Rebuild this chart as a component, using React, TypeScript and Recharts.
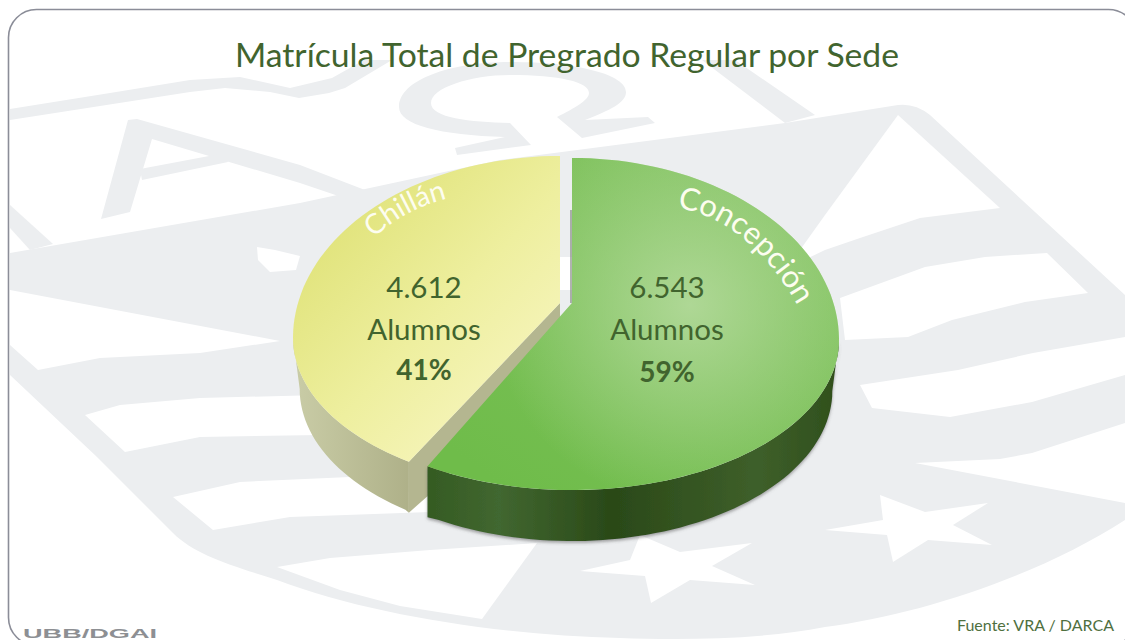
import { Pie, PieChart } from 'recharts';

const sedes = ['Chillán', 'Concepción'];
const alumnos = [4612, 6543];
const tableData = sedes.map((sede, i) => ({ sede, alumnos: alumnos[i] }));

const titulo = 'Matrícula Total de Pregrado Regular por Sede';
const fuente = 'Fuente: VRA / DARCA';
const firma = 'UBB/DGAI';

const FONT = 'Lato, Carlito, sans-serif';
const TEXT_GREEN = '#41642e';

// drawing offsets for each slice, the pie is exploded and seen in perspective
const sliceLook = [
  { dx: -6, dy: -2, tipShift: -3.3, apexDy: -35, topFill: 'url(#chillanTop)', glow: '', wall: 'url(#chillanWall)', cut: '#b4b690', depth: 51 },
  { dx: 6, dy: 0, tipShift: -1.6, apexDy: -37, topFill: 'url(#concepTop)', glow: 'url(#concepGlow)', wall: 'url(#concepWall)', cut: '#3b5c27', depth: 51 },
];
const labelLook = [
  { x: 424, y: 298 },
  { x: 667, y: 298 },
];

const SQUASH_TOP = 0.682;
const SQUASH_BOTTOM = 0.562;
const WALL_TAPER = 0.975;

function ellipsePoints(cx: number, cy: number, r: number, from: number, to: number) {
  const pts: number[][] = [];
  const steps = Math.max(2, Math.ceil(Math.abs(to - from) / 2));
  for (let s = 0; s <= steps; s++) {
    const a = ((from + ((to - from) * s) / steps) * Math.PI) / 180;
    const sin = Math.sin(a);
    const squash = sin > 0 ? SQUASH_TOP : SQUASH_BOTTOM;
    pts.push([cx + r * Math.cos(a), cy - r * squash * sin]);
  }
  return pts;
}

const toPath = (pts: number[][]) =>
  pts.map((p, i) => `${i ? 'L' : 'M'}${p[0].toFixed(1)},${p[1].toFixed(1)}`).join(' ') + ' Z';

function Slice3D(props: any) {
  const i = sedes.indexOf(props.name ?? props.payload?.sede);
  const look = sliceLook[i];
  const cx = props.cx + look.dx;
  const cy = props.cy + look.dy;
  const r = props.outerRadius;
  // Chillán runs top -> bottom left, Concepción runs bottom left -> top
  const start = i === 0 ? props.startAngle : props.startAngle + look.tipShift;
  const end = i === 0 ? props.endAngle + look.tipShift : props.endAngle;
  const rim = ellipsePoints(cx, cy, r, start, end);
  const apex = [cx, cy + look.apexDy];
  const top = toPath([apex, ...rim]);

  const wallRim = i === 0 ? ellipsePoints(cx, cy, r, 180, end) : ellipsePoints(cx, cy, r, start, 360);
  const wall = toPath([
    ...wallRim,
    ...[...wallRim].reverse().map((p, k, arr) => {
      // the lower rim is a little narrower, except at the cut corner
      const atCorner = i === 0 ? k === 0 : k === arr.length - 1;
      const x = atCorner ? p[0] : cx + (p[0] - cx) * WALL_TAPER;
      return [x, p[1] + look.depth];
    }),
  ]);
  const tip = rim[rim.length - 1];
  const cut = [
    apex,
    tip,
    [tip[0], tip[1] + look.depth],
    [tip[0] + 18, tip[1] + 35],
    [apex[0], apex[1] + look.depth],
  ];

  return (
    <g>
      <path d={wall} fill={look.wall} filter={i === 1 ? 'url(#pieShadow)' : undefined} />
      {i === 0 && <path d={toPath(cut)} fill={look.cut} />}
      <path d={top} fill={look.topFill} />
      {look.glow && <path d={top} fill={look.glow} />}
      {i === 1 && (
        <line x1={cx - 1} y1={210} x2={cx - 1} y2={apex[1]} stroke='#8f948f' strokeWidth={2} opacity={0.7} />
      )}
    </g>
  );
}

function SliceLabel(props: any) {
  const i = sedes.indexOf(props.name ?? props.payload?.sede);
  const pos = labelLook[i];
  const numero = String(props.value).replace(/\B(?=(\d{3})+$)/g, '.');
  const common = { fontFamily: FONT, textAnchor: 'middle' as const, fill: TEXT_GREEN };
  return (
    <g>
      <text x={pos.x} y={pos.y} fontSize={29.5} {...common}>{numero}</text>
      <text x={pos.x} y={pos.y + 42} fontSize={29.5} {...common}>Alumnos</text>
      <text x={pos.x} y={pos.y + (i === 0 ? 82 : 84)} fontSize={28} fontWeight={700} {...common}>
        {Math.round(props.percent * 100)}%
      </text>
      <text fontFamily={FONT} fontSize={i === 0 ? 28 : 31} fill='#fdfdf0'>
        <textPath href={i === 0 ? '#chillanCurve' : '#concepCurve'}>{props.name ?? sedes[i]}</textPath>
      </text>
    </g>
  );
}

// pale emblem behind the chart
const WATERMARK = '#eceef0';
const whiteCuts = [
  '10,290 280,341 200,353 100,358 38,370 10,345',
  '85,415 120,405 200,398 320,395 320,435 200,437 125,452',
  '173,497 240,482 350,477 440,500 430,512 290,517 213,530',
  '277,567 330,558 430,550 537,543 482,619 400,606 340,590',
  '580,571 645,576 651,603 690,580 755,585 712,566 752,543 680,552 640,535 630,560',
  '860,385 958,370 1033,353 1125,337 1125,375 1032,402 950,417 872,408',
  '915,463 1000,459 1032,453 1125,423 1125,503',
  '898,115 1000,208 920,218 860,238 825,250 800,262 800,250 825,215',
  '1047,253 1088,293 1025,302 952,320 908,337 845,340 840,298 925,267 985,257',
  '880,495 925,512 988,503 953,525 992,545 928,540 893,562 887,535 825,530 883,520',
  '257,247 275,250 300,256 296,270 270,272 258,260',
  '560,257 572,257 572,290 560,290',
];
const greyStrokes = [
  '10,205 53,244 30,250 10,228',
  '128,120 137,119 300,165 365,190 365,205 300,183 152,139 130,212 101,219',
  '140,169 225,153 228,162 142,180',
  '10,109 110,93 190,80 240,77 290,88 332,78 364,60 392,60 345,88 329,93 299,98 270,92 225,88 190,92 10,120',
  '702,60 735,60 815,115 785,123',
];

function Watermark() {
  return (
    <svg width={1125} height={640} style={{ position: 'absolute', left: 0, top: 0 }}>
      <path
        d='M10,253 L300,203 L500,160 L785,123 L898,105 Q915,103 930,115 L1125,295 L1125,520 C1040,575 920,615 825,627 C760,640 680,640 620,638 C500,635 370,615 277,580 C230,565 195,555 173,533 L97,457 L10,375 Z'
        fill={WATERMARK}
      />
      {whiteCuts.map((points) => (
        <polygon key={points} points={points} fill='#ffffff' />
      ))}
      {greyStrokes.map((points) => (
        <polygon key={points} points={points} fill={WATERMARK} />
      ))}
      <path
        d='M510,123 C470,122 431,118 431,103 C431,88 470,75 510,75 C560,75 589,82 589,93 C589,100 575,108 557,117 L582,138 L655,123 L648,117 L585,120 C610,110 626,103 626,92 C626,75 580,62 510,62 C450,62 399,80 399,107 C399,125 440,135 505,137 L455,148 L457,155 L531,145 Z'
        fill={WATERMARK}
      />
      <rect x={8.5} y={9.5} width={1128} height={636} rx={28} fill='none' stroke='#8b8d98' strokeWidth={1.6} />
    </svg>
  );
}

export default function App() {
  return (
    <div style={{ position: 'absolute', left: 0, top: 0, width: 1125, height: 640, overflow: 'hidden', background: '#fff' }}>
      <Watermark />
      <div style={{ position: 'absolute', left: 0, top: 0 }}>
        <PieChart width={1125} height={640} margin={{ top: 0, right: 0, bottom: 0, left: 0 }}>
          <defs>
            <linearGradient id='chillanTop' gradientUnits='userSpaceOnUse' x1={310} y1={220} x2={520} y2={420}>
              <stop offset='0%' stopColor='#dfe277' />
              <stop offset='55%' stopColor='#eeef9f' />
              <stop offset='100%' stopColor='#f7f5bf' />
            </linearGradient>
            <linearGradient id='chillanWall' gradientUnits='userSpaceOnUse' x1={295} y1={0} x2={420} y2={0}>
              <stop offset='0%' stopColor='#c9cca6' />
              <stop offset='100%' stopColor='#acae86' />
            </linearGradient>
            <linearGradient id='concepTop' gradientUnits='userSpaceOnUse' x1={480} y1={470} x2={700} y2={170}>
              <stop offset='0%' stopColor='#6fbc4a' />
              <stop offset='100%' stopColor='#82c360' />
            </linearGradient>
            <radialGradient id='concepGlow' gradientUnits='userSpaceOnUse' cx={690} cy={305} r={200}>
              <stop offset='0%' stopColor='#b4da9c' stopOpacity={0.9} />
              <stop offset='100%' stopColor='#b4da9c' stopOpacity={0} />
            </radialGradient>
            <linearGradient id='concepWall' gradientUnits='userSpaceOnUse' x1={424} y1={0} x2={840} y2={0}>
              <stop offset='0%' stopColor='#345a22' />
              <stop offset='18%' stopColor='#416730' />
              <stop offset='45%' stopColor='#2a4918' />
              <stop offset='80%' stopColor='#3e5f2a' />
              <stop offset='100%' stopColor='#2f4f1c' />
            </linearGradient>
            <filter id='pieShadow' x='-5%' y='-5%' width='110%' height='120%'>
              <feDropShadow dx={0} dy={2} stdDeviation={1.5} floodColor='#555' floodOpacity={0.5} />
            </filter>
            <path id='chillanCurve' d='M374,238 Q408,206 458,196' fill='none' />
            <path id='concepCurve' d='M677,208 Q750,220 800,310' fill='none' />
          </defs>
          <Pie
            data={tableData}
            dataKey='alumnos'
            nameKey='sede'
            cx={566}
            cy={340}
            outerRadius={267}
            startAngle={90}
            endAngle={450}
            stroke='none'
            labelLine={false}
            label={SliceLabel}
            shape={Slice3D}
            isAnimationActive={false}
          />
          <text x={567} y={67} textAnchor='middle' fontFamily={FONT} fontSize={33.7} fill={TEXT_GREEN}>
            {titulo}
          </text>
          <text x={1114} y={631} textAnchor='end' fontFamily={FONT} fontSize={16} fill='#4f7040'>
            {fuente}
          </text>
          <text
            x={23}
            y={638}
            textLength={134}
            lengthAdjust='spacingAndGlyphs'
            fontFamily='Liberation Sans, sans-serif'
            fontWeight={700}
            fontSize={12.5}
            fill='#8d8f93'
          >
            {firma}
          </text>
        </PieChart>
      </div>
    </div>
  );
}
